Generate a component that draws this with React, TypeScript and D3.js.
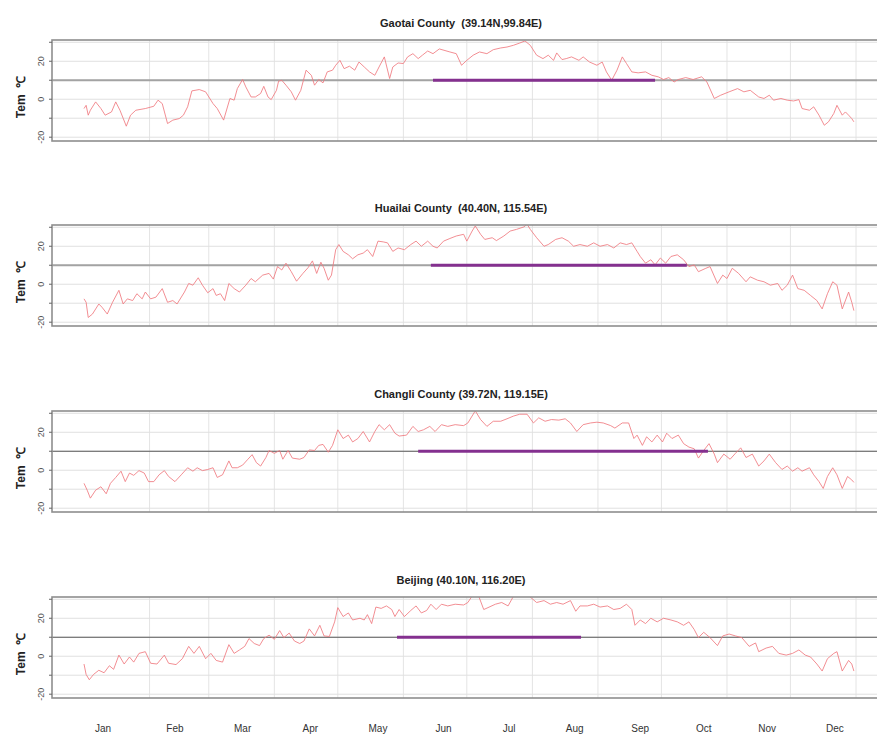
import React from 'react';
import * as d3 from 'd3';

type Pt = [number, number];

const monthNames = ['Jan', 'Feb', 'Mar', 'Apr', 'May', 'Jun', 'Jul', 'Aug', 'Sep', 'Oct', 'Nov', 'Dec'];
const monthStartDays = [32, 60, 91, 121, 152, 182, 213, 244, 274, 305, 335, 366];
const monthLabelDays = [10, 44, 76, 108, 140, 171, 202, 233, 264, 294, 324, 356];
const yTicks = [-20, -10, 0, 10, 20, 30];
const yLabelTicks = [-20, 0, 20];
const thresholdTem = 10;

const gaotai: Pt[] = [
  [1, -4.9], [2, -3.2], [3, -8.4], [4, -5.8], [6.5, -1.4], [9, -4.9], [11, -8.4], [14, -6.7], [16, -1.4], [18, -5.8],
  [21, -14.2], [23, -8.4], [25.5, -5.8], [30, -4.9], [34, -3.7], [36, -0.5], [38, -2.3], [40.5, -12.8], [43, -11], [46, -10.2],
  [48, -8.4], [50, -4], [52, 4.4], [55.5, 5.1], [58.5, 3.9], [62, -2.3], [64, -4.9], [67, -11], [70, 0.4], [72, -0.5],
  [73.5, 5.6], [76, 10.4], [77.5, 6.5], [80, 1.2], [82, 1.2], [84.5, 3], [86, 6.8], [88, 1.2], [89.5, -0.2], [92, 4.7],
  [93, 9.5], [94.5, 10], [96.5, 7.4], [99, 3.9], [101, -0.5], [103.5, 4.7], [106, 15.3], [108.5, 12.6], [110, 7.4], [112, 10.4],
  [114, 8.6], [116, 14.4], [118.5, 15.3], [120, 17.9], [122, 20.5], [124, 16.1], [126.5, 17.4], [129, 15.3], [131, 19.6], [133.5, 17],
  [136, 14.4], [138.5, 12.6], [140.5, 17], [143, 22.3], [145.5, 10.9], [147, 17], [149.5, 19.1], [152, 18.8], [154, 22.3], [156.5, 24],
  [159, 21.4], [161, 23.2], [163.5, 25.4], [166, 24], [169, 26.5], [174, 24.9], [177, 24], [179.5, 17.9], [182, 20.5], [185, 23.2],
  [188, 24.9], [191.5, 24], [194.5, 26.1], [198, 27], [201, 27.5], [204, 28.4], [207, 29.6], [209.5, 30.7], [212, 28.4], [215, 23.2],
  [218, 21.4], [220.5, 23.2], [223, 20.5], [224.5, 24.4], [227, 20.9], [229, 21.4], [231.5, 22.3], [235, 20.5], [237, 22.3], [240, 19.6],
  [243.5, 17.9], [246, 19.6], [248, 14.4], [250.5, 10], [253, 15.3], [255.5, 22.3], [257.5, 18.8], [260, 14.4], [263, 13.9], [266.5, 14.4],
  [269.5, 12.6], [272.5, 11.8], [275, 10.4], [277.5, 11.4], [280, 9.1], [282, 10.4], [285.5, 11.4], [289, 10.4], [293, 11.8], [295.5, 9.1],
  [299, 0.4], [302, 2.1], [306, 3.9], [310, 5.6], [313, 3.9], [316, 4.7], [320, 1.2], [322.5, 0.4], [325, 2.1], [327, -0.5],
  [330.5, 0.4], [333.5, -0.5], [336.5, -0.9], [339, -0.2], [340.5, -4.9], [344, -5.8], [346, -4], [348.5, -8.4], [351, -13.7], [353, -11.9],
  [355.5, -7.5], [357, -3.2], [359.5, -8.4], [361, -6.7], [362.5, -8.4], [364, -10.2], [365, -11.9],
];

const huailai: Pt[] = [
  [1, -7.7], [2, -9.5], [3, -17.5], [5, -15.7], [8, -10.4], [9.5, -12.1], [12, -15.7], [14.5, -9.5], [17.5, -3.2], [19.5, -10.4],
  [21.5, -7.7], [24, -8.6], [26, -5], [28.5, -7.7], [30, -4.1], [32.5, -7.7], [35, -6.8], [38, -2.3], [40.5, -9.5], [43, -8.6],
  [45, -10.4], [48.5, -4.1], [50.5, 0.4], [52.5, -0.5], [55, 3.4], [57, -0.5], [59.5, -4.5], [62, -2.3], [63.5, -5.9], [65.5, -5],
  [67.5, -8.6], [69.5, 0.4], [72, -2.3], [74.5, -4.1], [77.5, -0.5], [80, 3], [82, 1.3], [85.5, 4.8], [88.5, 5.7], [90.5, 2.7],
  [92.5, 9.3], [94.5, 7.5], [96.5, 11.1], [99, 6.6], [101.5, 1.6], [104.5, 5.7], [107, 8.8], [109, 12.3], [111, 5.7], [113, 11.6],
  [114.5, 8.4], [116.5, 2.1], [118, 4.8], [120, 18.2], [121.5, 20.9], [123.5, 17.3], [126, 15.5], [128, 13.4], [130.5, 15.5], [133, 16.4],
  [135, 18.2], [137.5, 14.6], [140, 22.7], [142.5, 22.3], [144.5, 21.8], [147, 17.3], [149.5, 19.1], [152.5, 18.2], [155.5, 20.9], [158, 22.7],
  [160.5, 20], [163.5, 22.7], [166, 20], [168, 19.1], [171, 22.7], [174, 24.1], [177, 25.4], [180.5, 26.3], [182, 22.7], [184.5, 28],
  [186, 30.7], [188.5, 26.3], [190.5, 23.6], [194, 24.5], [196, 23], [199.5, 25.4], [202.5, 28], [205.5, 28.9], [209, 30.2], [210.5, 31.6],
  [212, 28.9], [215, 24.5], [218.5, 20], [220.5, 20.9], [224, 23.6], [227, 24.5], [230, 22.7], [232.5, 20], [235.5, 20.9], [239, 20],
  [242, 21.8], [245, 20], [248.5, 20.9], [251.5, 19.1], [254.5, 21.8], [257.5, 20.9], [260, 21.8], [262.5, 17.3], [264, 14.6], [266.5, 11.1],
  [269, 12.9], [271, 10.2], [273.5, 13.8], [276, 11.1], [278.5, 14.6], [281.5, 15.5], [284.5, 12.9], [287, 9.3], [289.5, 10.2], [291.5, 6.6],
  [295, 8.4], [297, 9.3], [300.5, 0.4], [303, 4.8], [305, 3], [307.5, 8.4], [310.5, 5.7], [314, 1.3], [316, 3.9], [319.5, 2.1],
  [322.5, 1.3], [325.5, -0.5], [329, 0.4], [331, -3.2], [333.5, -0.5], [336, 4.8], [338.5, -2.3], [341.5, -3.2], [344.5, -5.9], [347.5, -8.6],
  [350, -13], [352.5, -5], [355, 1.3], [357, -0.5], [359.5, -13], [362.5, -4.1], [364, -9.5], [365, -13.9],
];

const changli: Pt[] = [
  [1, -6.9], [2.5, -10.5], [4, -14.7], [6.5, -10.5], [9, -8.7], [11.5, -12.4], [13.5, -6.9], [16, -3.8], [18.5, -0.5], [20.5, -6],
  [22.5, -1.5], [24.5, -2.7], [27, -0.2], [29.5, -1.5], [31.5, -6], [34, -6], [36.5, -2.4], [39, -0.2], [41, -3.3], [44, -6],
  [47, -2.4], [50, 1.3], [52.5, -0.5], [54.5, 1.3], [57, -0.2], [59.5, 0.4], [62, 1.3], [64, -3.8], [66.5, -2.4], [69.5, 4.9],
  [71, 1.3], [73.5, 1.3], [76, 2.7], [78.5, 5.8], [80.5, 8.2], [82.5, 4], [84.5, 2.2], [87, 6.7], [88.5, 10.4], [91, 8.9],
  [93.5, 10.4], [95, 5.8], [97.5, 10.4], [99.5, 6.4], [103, 5.8], [105, 6.7], [107.5, 10.7], [110, 10.4], [112, 13.1], [114, 13.6],
  [116.5, 9.5], [118.5, 13.1], [121, 21.3], [123.5, 16.7], [126, 18.5], [128, 14.9], [130.5, 16.7], [133, 20.4], [136, 14.9], [138.5, 20.4],
  [140.5, 24], [143, 21.3], [145.5, 24], [148, 19.5], [150, 18], [153.5, 18.5], [156.5, 23.1], [159, 20.4], [161.5, 21.3], [164.5, 23.1],
  [167, 20.4], [170, 24], [173, 23.1], [176.5, 24], [180.5, 23.5], [182.5, 24.9], [186, 31.3], [188.5, 26.7], [191.5, 23.1], [194.5, 25.8],
  [198, 25.8], [201, 27.1], [204, 28.5], [207, 29.5], [210.5, 29.5], [213.5, 24.9], [216, 27.6], [219, 25.8], [222, 26.7], [225.5, 26.4],
  [228.5, 27.1], [231, 24.9], [234, 20.4], [237, 24], [240.5, 24.9], [243.5, 25.3], [246.5, 24.9], [250, 23.5], [252, 22.2], [255.5, 24.9],
  [258.5, 24.9], [261, 16.7], [262.5, 18.5], [265, 13.1], [267, 17.6], [269.5, 14.9], [272, 18.5], [274.5, 14.9], [276.5, 19.5], [279, 16.7],
  [282, 18.5], [284.5, 14], [287, 12.2], [289.5, 11.3], [291.5, 6.4], [294, 10.4], [296.5, 14], [299, 8.5], [300.5, 4], [303.5, 8.5],
  [306.5, 5.8], [309, 8.9], [311.5, 11.8], [314, 6.7], [317, 8.5], [320, 2.2], [322.5, 4.9], [325, 8.5], [328, 4], [331, 0.4],
  [333.5, 2.2], [336, -0.5], [338.5, 1.3], [340.5, -0.5], [344, 1.3], [346, -2.4], [348.5, -6], [350.5, -9.6], [352.5, -3.3], [355, 1.3],
  [357, -2.4], [359.5, -9.6], [362, -3.3], [364, -5.1], [365, -6.4],
];

const beijing: Pt[] = [
  [1, -4.1], [2, -9.6], [3.5, -12.4], [5.5, -9.6], [8, -7.4], [10.5, -8.7], [13, -5], [15, -6.9], [17.5, 0.6], [20, -4.1],
  [22.5, -0.4], [24.5, -3.1], [27, 1.5], [30, 2.4], [32.5, -3.7], [35.5, -4.1], [39, 0.6], [41, -3.7], [44.5, -4.4], [47.5, -1.3],
  [50.5, 5.2], [53, 1.5], [55.5, 5.2], [58.5, -1.3], [61, 1.5], [63.5, -2.2], [66.5, -3.1], [69.5, 6.1], [72, 1.5], [74.5, 3.3],
  [77, 5.2], [79, 9.3], [81.5, 6.7], [84, 5.6], [86, 9.3], [88.5, 11.1], [91, 8.9], [93.5, 13.5], [95.5, 9.8], [98, 12.2],
  [100.5, 8], [103, 6.7], [105, 8], [107.5, 14.4], [110, 10.7], [112.5, 16.3], [114.5, 10.7], [117, 10.4], [119.5, 18.1], [121, 25.6],
  [123.5, 20.9], [126, 22.8], [128, 19.1], [131.5, 20], [133.5, 19.1], [135, 21.9], [137, 17.2], [139, 25.9], [141.5, 25.2], [144, 26.5],
  [146.5, 24.6], [148, 20.9], [150, 24.6], [152.5, 20.9], [155.5, 24.1], [158, 26.5], [160.5, 22.8], [163, 24.1], [165, 27.4], [167.5, 24.6],
  [170, 27.4], [173, 26.5], [176.5, 27.4], [180.5, 27], [182.5, 28.3], [185, 32.6], [187.5, 32], [190, 24.6], [192, 25.6], [195.5, 27.4],
  [198.5, 28.3], [201.5, 26.5], [204, 31.5], [207, 32.6], [210.5, 32.6], [213, 30.2], [215, 28.3], [218.5, 29.3], [221.5, 27.4], [224.5, 28.3],
  [227.5, 27.4], [231, 29.3], [233.5, 23.7], [235.5, 26.5], [239, 26.5], [242, 27.4], [245, 25.9], [248.5, 26.5], [251.5, 24.6], [254.5, 25.2],
  [257.5, 27.4], [260, 24.6], [261.5, 16.3], [264, 19.1], [266.5, 17.2], [269, 20], [272, 18.1], [275, 20], [278.5, 19.1], [281.5, 18.1],
  [284.5, 16.3], [287, 18.1], [289.5, 14.1], [291.5, 9.8], [294, 12.6], [297, 9.8], [300.5, 5.6], [303, 10.7], [306, 11.7], [309, 10.7],
  [312, 9.8], [315.5, 5.2], [318.5, 7], [320, 2.4], [323.5, 4.3], [326.5, 5.2], [329.5, 1.5], [333, 0.6], [336, 1.5], [339, 3.3],
  [342, 0.6], [344.5, -0.4], [347.5, -4.1], [350, -7.8], [352.5, -1.3], [355.5, 1.5], [357, 2.4], [359.5, -7.8], [362.5, -2.2], [364, -4.1],
  [365, -7.8],
];

const stationTitles = [
  'Gaotai County  (39.14N,99.84E)',
  'Huailai County  (40.40N, 115.54E)',
  'Changli County (39.72N, 119.15E)',
  'Beijing (40.10N, 116.20E)',
];
const stationSeries = [gaotai, huailai, changli, beijing];
const warmPeriods: Pt[] = [[166, 271], [165, 286], [159, 296], [149, 236]];

const W = 877;
const H = 736;
const boxLeft = 52;
const boxRight = 884;
const panelTops = [40, 225, 411, 597];
const panelH = 101;
const FONT = '"Liberation Sans", Arial, Helvetica, sans-serif';

export default function App() {
  const x = d3.scaleLinear().domain([1, 366]).range([84, 856]);

  return (
    <svg
      width={W}
      height={H}
      viewBox={`0 0 ${W} ${H}`}
      style={{ position: 'absolute', left: 0, top: 0, background: '#fff' }}
      fontFamily={FONT}
    >
      <rect x={0} y={0} width={W} height={H} fill="#fff" />
      {stationSeries.map((series, i) => {
        const top = panelTops[i];
        const y = d3.scaleLinear().domain([-22, 31.2]).range([top + panelH, top]);
        const line = d3
          .line<Pt>()
          .x((d) => x(d[0]))
          .y((d) => y(d[1]));
        const dark = i >= 2;
        const clipId = `clip${i}`;
        return (
          <g key={i}>
            <defs>
              <clipPath id={clipId}>
                <rect x={boxLeft} y={top} width={boxRight - boxLeft} height={panelH} />
              </clipPath>
            </defs>
            <text
              x={461}
              y={top - 13}
              textAnchor="middle"
              fontSize={11}
              fontWeight="bold"
              fill="#222"
              style={{ whiteSpace: 'pre' }}
            >
              {stationTitles[i]}
            </text>
            {monthStartDays.map((d) => (
              <line key={'v' + d} x1={x(d)} x2={x(d)} y1={top} y2={top + panelH} stroke="#e4e4e4" strokeWidth={1} />
            ))}
            {yTicks.map((t) => (
              <line key={'h' + t} x1={boxLeft} x2={boxRight} y1={y(t)} y2={y(t)} stroke="#e0e0e0" strokeWidth={1} />
            ))}
            <line
              x1={boxLeft}
              x2={boxRight}
              y1={y(thresholdTem)}
              y2={y(thresholdTem)}
              stroke={dark ? '#5a5a5a' : '#a3a3a3'}
              strokeWidth={dark ? 1.2 : 2}
            />
            <g clipPath={`url(#${clipId})`}>
              <path d={line(series) || ''} fill="none" stroke="#f07a80" strokeWidth={0.85} strokeLinejoin="round" />
            </g>
            <line
              x1={x(warmPeriods[i][0])}
              x2={x(warmPeriods[i][1])}
              y1={y(thresholdTem)}
              y2={y(thresholdTem)}
              stroke="#84308f"
              strokeWidth={3.2}
            />
            <rect x={boxLeft} y={top} width={boxRight - boxLeft} height={panelH} fill="none" stroke="#8e8e8e" strokeWidth={1.6} />
            {yTicks.map((t) => (
              <line key={'t' + t} x1={boxLeft - 3} x2={boxLeft} y1={y(t)} y2={y(t)} stroke="#666" strokeWidth={1} />
            ))}
            {yLabelTicks.map((t) => (
              <text
                key={'l' + t}
                transform={`translate(44,${y(t)}) rotate(-90)`}
                textAnchor="middle"
                fontSize={9}
                fill="#555"
              >
                {t}
              </text>
            ))}
            <text
              transform={`translate(25,${top + 57}) rotate(-90)`}
              textAnchor="middle"
              fontSize={12}
              fontWeight="bold"
              fill="#222"
              style={{ whiteSpace: 'pre' }}
            >
              {'Tem  ℃'}
            </text>
          </g>
        );
      })}
      {monthNames.map((m, k) => (
        <text key={m} x={x(monthLabelDays[k])} y={732} textAnchor="middle" fontSize={10} fill="#333">
          {m}
        </text>
      ))}
    </svg>
  );
}
